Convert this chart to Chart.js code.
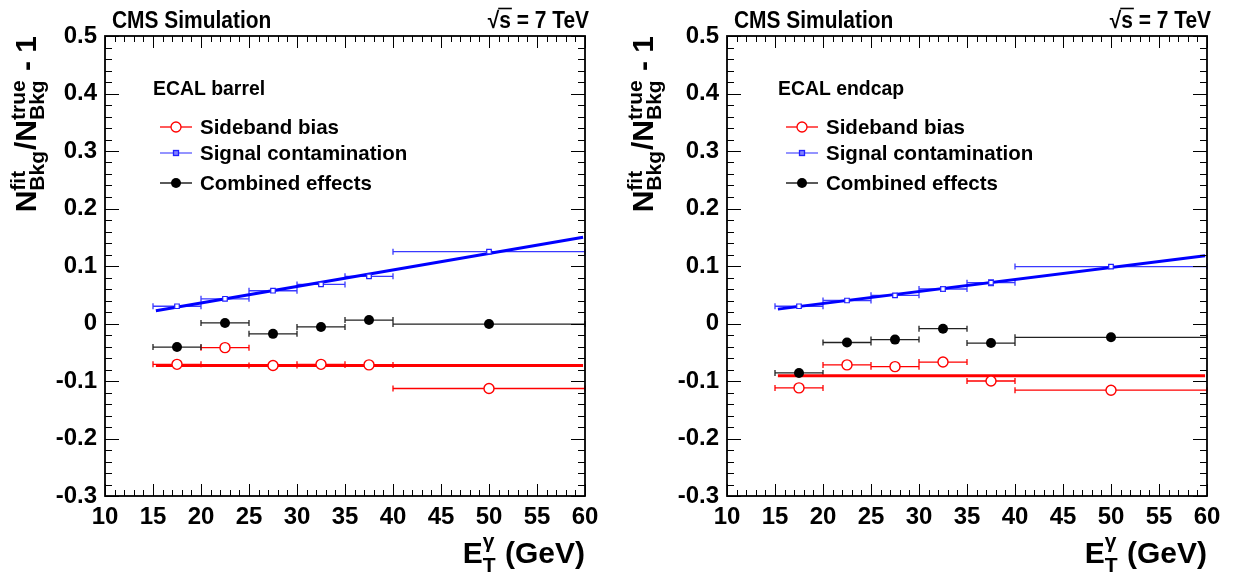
<!DOCTYPE html>
<html>
<head>
<meta charset="utf-8">
<script src="https://cdn.jsdelivr.net/npm/chart.js@4.4.1/dist/chart.umd.min.js"></script>
<style>
  html, body { margin: 0; padding: 0; background: #fff; }
  #wrap { position: relative; width: 1234px; height: 575px; }
  canvas { position: absolute; top: 0; }
</style>
</head>
<body>
<div id="wrap">
  <canvas id="barrel" width="617" height="575" style="left:0"></canvas>
  <canvas id="endcap" width="617" height="575" style="left:617px"></canvas>
</div>
<script>
// bins in photon ET (GeV)
const binLow = [15, 20, 25, 30, 35, 40];
const binHigh = [20, 25, 30, 35, 40, 60];
const binCenter = [17.5, 22.5, 27.5, 32.5, 37.5, 50];
const fitRange = [15.3, 59.8];

const xTickValues = [10, 15, 20, 25, 30, 35, 40, 45, 50, 55, 60];
const xTickLabels = ['10', '15', '20', '25', '30', '35', '40', '45', '50', '55', '60'];
const yTickValues = [-0.3, -0.2, -0.1, 0, 0.1, 0.2, 0.3, 0.4, 0.5];
const yTickLabels = ['-0.3', '-0.2', '-0.1', '0', '0.1', '0.2', '0.3', '0.4', '0.5'];

const legendLabels = ['Sideband bias', 'Signal contamination', 'Combined effects'];

// ECAL barrel
const barrelSideband = [-0.071, -0.042, -0.073, -0.071, -0.072, -0.113];
const barrelSignal = [0.030, 0.043, 0.057, 0.068, 0.082, 0.125];
const barrelSignalErr = [0.001, 0.001, 0.001, 0.002, 0.002, 0.001];
const barrelCombined = [-0.041, 0.001, -0.018, -0.006, 0.006, -0.001];
const barrelSidebandFit = [-0.073, -0.073];
const barrelSignalFit = [0.022, 0.150];

// ECAL endcap
const endcapSideband = [-0.112, -0.072, -0.075, -0.067, -0.100, -0.116];
const endcapSignal = [0.030, 0.040, 0.049, 0.060, 0.071, 0.099];
const endcapSignalErr = [0.002, 0.002, 0.003, 0.004, 0.005, 0.003];
const endcapCombined = [-0.086, -0.033, -0.028, -0.009, -0.034, -0.024];
const endcapSidebandFit = [-0.091, -0.091];
const endcapSignalFit = [0.025, 0.118];

const FONT = '"Liberation Sans", Arial, Helvetica, sans-serif';

function pts(xs, ys) {
  return xs.map((x, i) => ({ x: x, y: ys[i] }));
}

function drawText(ctx, str, x, y, size, align, sx) {
  ctx.save();
  ctx.font = 'bold ' + size + 'px ' + FONT;
  ctx.textAlign = align || 'left';
  ctx.textBaseline = 'alphabetic';
  ctx.translate(x, y);
  ctx.scale(sx || 1, 1);
  ctx.fillText(str, 0, 0);
  ctx.restore();
}

// text with stacked super/subscripts, like ROOT's N^{fit}_{Bkg}
function richText(ctx, parts, x, y, big, small, supOff, subOff) {
  const w = parts.map(p => {
    if (p.t !== undefined) {
      ctx.font = 'bold ' + big + 'px ' + FONT;
      return ctx.measureText(p.t).width;
    }
    ctx.font = 'bold ' + small + 'px ' + FONT;
    return Math.max(ctx.measureText(p.sup || '').width, ctx.measureText(p.sub || '').width) + 1;
  });
  const total = w.reduce((a, b) => a + b, 0);
  let cx = x - total;
  ctx.textAlign = 'left';
  ctx.textBaseline = 'alphabetic';
  parts.forEach((p, i) => {
    if (p.t !== undefined) {
      ctx.font = 'bold ' + big + 'px ' + FONT;
      ctx.fillText(p.t, cx, y);
    } else {
      ctx.font = 'bold ' + small + 'px ' + FONT;
      if (p.sup) ctx.fillText(p.sup, cx, y + supOff);
      if (p.sub) ctx.fillText(p.sub, cx, y + subOff);
    }
    cx += w[i];
  });
}

const errorBars = {
  id: 'errorBars',
  beforeDatasetsDraw(chart) {
    const { ctx, scales: { x, y } } = chart;
    chart.data.datasets.forEach(ds => {
      if (!ds.xLow) return;
      ctx.save();
      ctx.strokeStyle = ds.errColor;
      ctx.lineWidth = 1.3;
      ctx.beginPath();
      ds.data.forEach((p, j) => {
        const py = y.getPixelForValue(p.y);
        const x0 = x.getPixelForValue(ds.xLow[j]);
        const x1 = x.getPixelForValue(ds.xHigh[j]);
        ctx.moveTo(x0, py); ctx.lineTo(x1, py);
        ctx.moveTo(x0, py - 3); ctx.lineTo(x0, py + 3);
        ctx.moveTo(x1, py - 3); ctx.lineTo(x1, py + 3);
        if (ds.yErr) {
          const px = x.getPixelForValue(p.x);
          const ylo = y.getPixelForValue(p.y - ds.yErr[j]);
          const yhi = y.getPixelForValue(p.y + ds.yErr[j]);
          ctx.moveTo(px, ylo); ctx.lineTo(px, yhi);
          ctx.moveTo(px - 3, ylo); ctx.lineTo(px + 3, ylo);
          ctx.moveTo(px - 3, yhi); ctx.lineTo(px + 3, yhi);
        }
      });
      ctx.stroke();
      ctx.restore();
    });
  }
};

// ROOT style frame with inward ticks on all four sides
const frameTicks = {
  id: 'frameTicks',
  afterDatasetsDraw(chart) {
    const { ctx, chartArea: a, scales: { x, y } } = chart;
    ctx.save();
    ctx.strokeStyle = '#000';
    ctx.lineWidth = 1;
    ctx.beginPath();
    for (let v = x.min; v <= x.max; v++) {
      const px = Math.round(x.getPixelForValue(v)) + 0.5;
      const len = v % 5 === 0 ? 12 : 6;
      ctx.moveTo(px, a.bottom); ctx.lineTo(px, a.bottom - len);
      ctx.moveTo(px, a.top); ctx.lineTo(px, a.top + len);
    }
    const n0 = Math.round(y.min / 0.02), n1 = Math.round(y.max / 0.02);
    for (let i = n0; i <= n1; i++) {
      const py = Math.round(y.getPixelForValue(i * 0.02)) + 0.5;
      const len = i % 5 === 0 ? 14 : 7;
      ctx.moveTo(a.left, py); ctx.lineTo(a.left + len, py);
      ctx.moveTo(a.right, py); ctx.lineTo(a.right - len, py);
    }
    ctx.stroke();
    ctx.lineWidth = 1.8;
    ctx.strokeRect(a.left, a.top, a.right - a.left, a.bottom - a.top);
    ctx.restore();
  }
};

const annotations = {
  id: 'annot',
  afterDraw(chart, args, opts) {
    const { ctx, chartArea: a } = chart;
    ctx.save();
    ctx.fillStyle = '#000';
    drawText(ctx, 'CMS Simulation', a.left + 7, 28, 23, 'left', 0.91);
    // sqrt(s) = 7 TeV
    ctx.font = 'bold 23px ' + FONT;
    const rest = ' = 7 TeV';
    const restW = ctx.measureText(rest).width * 0.91;
    const sW = ctx.measureText('s').width * 0.91;
    const xr = a.right + 4;
    drawText(ctx, rest, xr, 28, 23, 'right', 0.91);
    drawText(ctx, 's', xr - restW, 28, 23, 'right', 0.91);
    drawText(ctx, '\u221A', xr - restW - sW, 28, 23, 'right', 0.91);
    ctx.strokeStyle = '#000';
    ctx.lineWidth = 1.6;
    ctx.beginPath();
    ctx.moveTo(xr - restW - sW - 1, 8.5);
    ctx.lineTo(xr - restW + 1, 8.5);
    ctx.stroke();

    drawText(ctx, opts.region, a.left + opts.regionDx, 95, 20, 'left', 0.97);

    // legend
    const rows = [127, 153, 183];
    const styles = [
      { line: '#ff0000', mark: 'open' },
      { line: '#5a5aff', mark: 'square' },
      { line: '#000000', mark: 'dot' }
    ];
    const lx = a.left + opts.legendDx;
    legendLabels.forEach((lab, i) => {
      const yy = rows[i];
      const st = styles[i];
      ctx.strokeStyle = st.line;
      ctx.lineWidth = 1.3;
      ctx.beginPath();
      ctx.moveTo(lx - 16, yy); ctx.lineTo(lx + 16, yy);
      ctx.stroke();
      if (st.mark === 'open') {
        ctx.fillStyle = '#fff';
        ctx.beginPath(); ctx.arc(lx, yy, 5, 0, Math.PI * 2); ctx.fill(); ctx.stroke();
      } else if (st.mark === 'square') {
        ctx.fillStyle = '#8080ff';
        ctx.strokeStyle = '#2020ff';
        ctx.fillRect(lx - 2.5, yy - 2.5, 5, 5);
        ctx.strokeRect(lx - 2.5, yy - 2.5, 5, 5);
      } else {
        ctx.fillStyle = '#000';
        ctx.beginPath(); ctx.arc(lx, yy, 5, 0, Math.PI * 2); ctx.fill();
      }
      ctx.fillStyle = '#000';
      drawText(ctx, lab, lx + 24, yy + 7, 20.5, 'left', 1);
    });

    // x axis title
    richText(ctx, [{ t: 'E' }, { sup: '\u03B3', sub: 'T' }, { t: ' (GeV)' }],
      a.right, 563, 30, 21, -15, 9);

    // y axis title, rotated
    ctx.save();
    ctx.translate(36, a.top);
    ctx.rotate(-Math.PI / 2);
    richText(ctx, [{ t: 'N' }, { sup: 'fit', sub: 'Bkg' }, { t: '/N' }, { sup: 'true', sub: 'Bkg' }, { t: ' - 1' }],
      0, 0, 30, 21, -11, 8);
    ctx.restore();
    ctx.restore();
  }
};

function makeChart(id, sideband, signal, signalErr, combined, sidebandFit, signalFit, opts) {
  return new Chart(document.getElementById(id), {
    type: 'scatter',
    data: {
      datasets: [
        {
          label: legendLabels[0], data: pts(binCenter, sideband),
          xLow: binLow, xHigh: binHigh, errColor: '#ff0000',
          pointStyle: 'circle', pointRadius: 5, borderWidth: 1.4,
          borderColor: '#ff0000', backgroundColor: '#ffffff', showLine: false
        },
        {
          label: legendLabels[1], data: pts(binCenter, signal), yErr: signalErr,
          xLow: binLow, xHigh: binHigh, errColor: '#3a3aff',
          pointStyle: 'rect', pointRadius: 3.2, borderWidth: 1.2,
          borderColor: '#2020ff', backgroundColor: '#ffffff', showLine: false
        },
        {
          label: legendLabels[2], data: pts(binCenter, combined),
          xLow: binLow, xHigh: binHigh, errColor: '#222222',
          pointStyle: 'circle', pointRadius: 5, borderWidth: 0,
          borderColor: '#000000', backgroundColor: '#000000', showLine: false
        },
        {
          label: 'signal fit', data: pts(fitRange, signalFit), showLine: true,
          borderColor: '#0000ff', borderWidth: 3, pointRadius: 0
        },
        {
          label: 'sideband fit', data: pts(fitRange, sidebandFit), showLine: true,
          borderColor: '#ff0000', borderWidth: 3, pointRadius: 0
        }
      ]
    },
    options: {
      responsive: false,
      devicePixelRatio: 1,
      animation: false,
      events: [],
      layout: { padding: { top: 36, right: opts.padRight, bottom: 0, left: 0 } },
      plugins: {
        legend: { display: false },
        tooltip: { enabled: false },
        annot: opts
      },
      scales: {
        x: {
          type: 'linear', min: 10, max: 60,
          grid: { display: false, drawTicks: false },
          border: { display: false },
          afterBuildTicks: s => { s.ticks = xTickValues.map(v => ({ value: v })); },
          afterFit: s => { s.height = 79; s.paddingLeft = 0; s.paddingRight = 0; },
          ticks: {
            callback: (v, i) => xTickLabels[i],
            font: { family: FONT, size: 24, weight: 'bold' },
            color: '#000', padding: 7, maxRotation: 0, autoSkip: false
          }
        },
        y: {
          type: 'linear', min: -0.3, max: 0.5,
          grid: { display: false, drawTicks: false },
          border: { display: false },
          afterBuildTicks: s => { s.ticks = yTickValues.map(v => ({ value: v })); },
          afterFit: s => { s.width = opts.yWidth; s.paddingTop = 0; s.paddingBottom = 0; },
          ticks: {
            callback: (v, i) => yTickLabels[i],
            font: { family: FONT, size: 24, weight: 'bold' },
            color: '#000', padding: 8, autoSkip: false
          }
        }
      }
    },
    plugins: [errorBars, frameTicks, annotations]
  });
}

makeChart('barrel', barrelSideband, barrelSignal, barrelSignalErr, barrelCombined,
  barrelSidebandFit, barrelSignalFit,
  { region: 'ECAL barrel', regionDx: 48, legendDx: 71, yWidth: 105, padRight: 32 });
makeChart('endcap', endcapSideband, endcapSignal, endcapSignalErr, endcapCombined,
  endcapSidebandFit, endcapSignalFit,
  { region: 'ECAL endcap', regionDx: 51, legendDx: 75, yWidth: 110, padRight: 27 });
</script>
</body>
</html>
